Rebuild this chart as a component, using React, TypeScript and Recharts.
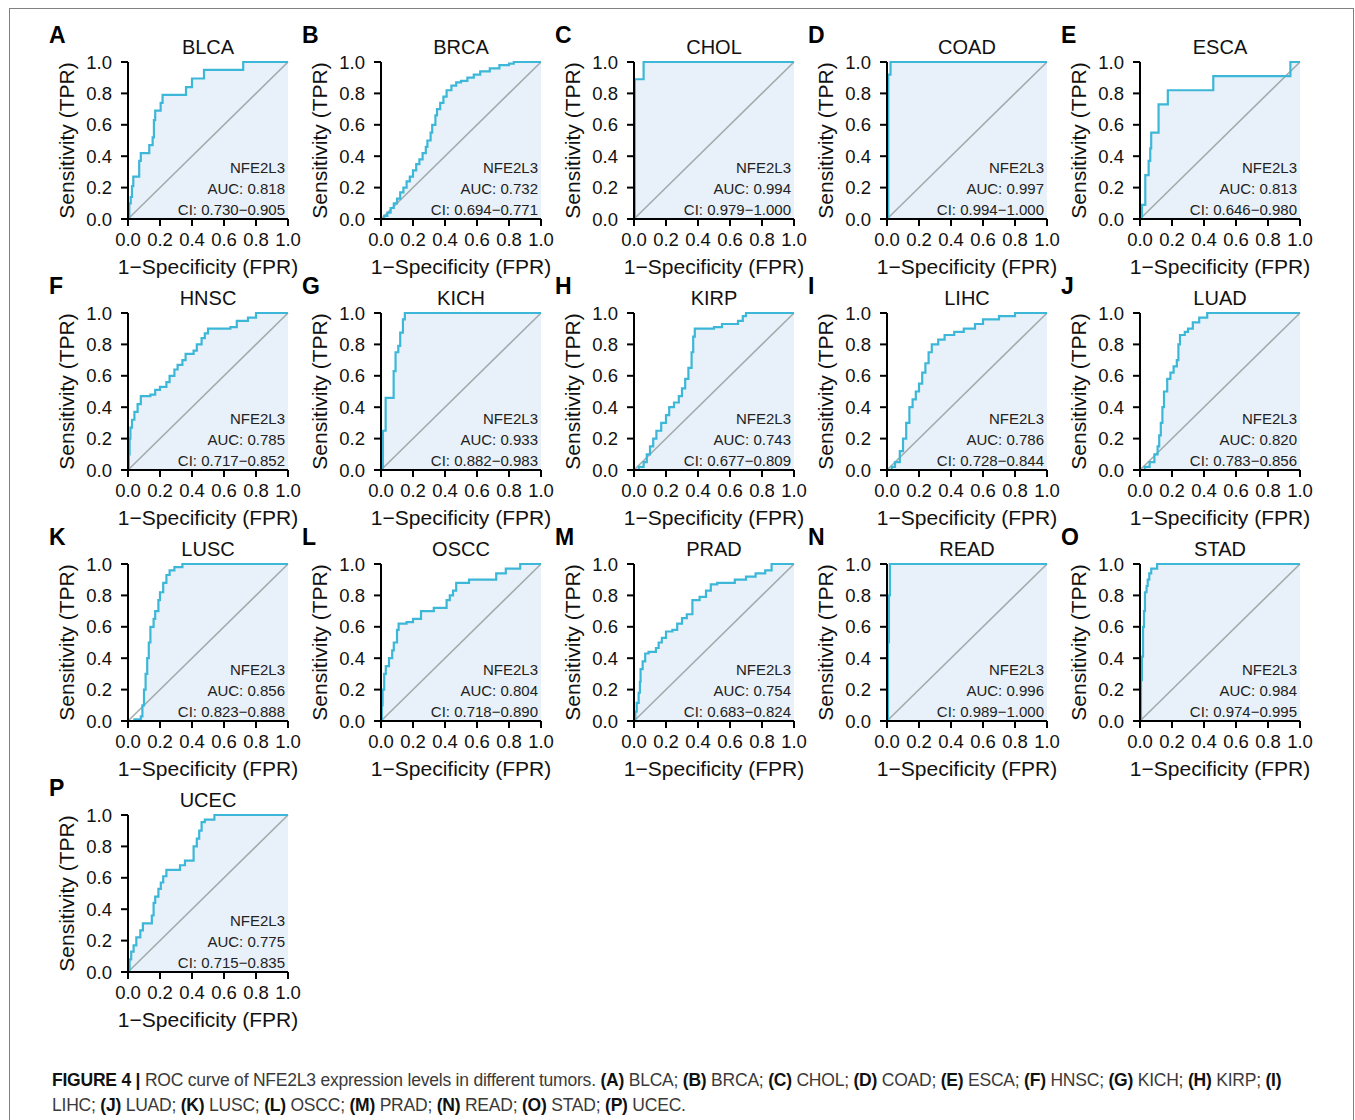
import { ComposedChart, Area, Line, XAxis, YAxis, Label } from 'recharts';

const FONT = '"Liberation Sans", Arial, Helvetica, sans-serif';

const TICKS = [0, 0.2, 0.4, 0.6, 0.8, 1.0];
const DIAGONAL = [{ x: 0, y: 0 }, { x: 1, y: 1 }];

// ROC corner points: each (fpr, tpr) is reached by a horizontal then a vertical move
const BLCA_FPR = [0, 0.008, 0.017, 0.025, 0.033, 0.07, 0.08, 0.133, 0.154, 0.162, 0.17, 0.204, 0.216, 0.3625, 0.4, 0.475, 0.72, 1.0];
const BLCA_TPR = [0, 0.1, 0.14, 0.21, 0.27, 0.37, 0.42, 0.47, 0.52, 0.63, 0.69, 0.74, 0.79, 0.84, 0.895, 0.95, 1.0, 1.0];

const BRCA_FPR = [0, 0.02, 0.04, 0.06, 0.08, 0.1, 0.12, 0.14, 0.16, 0.18, 0.2, 0.22, 0.24, 0.26, 0.28, 0.29, 0.31, 0.32, 0.34, 0.35, 0.37, 0.39, 0.41, 0.44, 0.47, 0.5, 0.54, 0.58, 0.62, 0.68, 0.74, 0.8, 0.83, 1.0];
const BRCA_TPR = [0, 0.02, 0.04, 0.07, 0.1, 0.13, 0.17, 0.2, 0.24, 0.27, 0.31, 0.35, 0.38, 0.42, 0.46, 0.5, 0.55, 0.6, 0.66, 0.7, 0.74, 0.78, 0.82, 0.85, 0.87, 0.88, 0.9, 0.92, 0.94, 0.96, 0.98, 0.99, 1.0, 1.0];

const CHOL_FPR = [0, 0.005, 0.06, 1.0];
const CHOL_TPR = [0, 0.89, 1.0, 1.0];

const COAD_FPR = [0, 0.008, 0.022, 1.0];
const COAD_TPR = [0, 0.92, 1.0, 1.0];

const ESCA_FPR = [0, 0.012, 0.033, 0.054, 0.064, 0.07, 0.116, 0.174, 0.458, 0.94, 1.0];
const ESCA_TPR = [0, 0.09, 0.28, 0.37, 0.45, 0.55, 0.73, 0.82, 0.91, 1.0, 1.0];

const HNSC_FPR = [0, 0.005, 0.01, 0.015, 0.025, 0.04, 0.06, 0.08, 0.14, 0.17, 0.2, 0.24, 0.26, 0.29, 0.31, 0.34, 0.36, 0.41, 0.43, 0.46, 0.48, 0.5, 0.64, 0.68, 0.75, 0.8, 1.0];
const HNSC_TPR = [0, 0.1, 0.2, 0.27, 0.32, 0.37, 0.42, 0.47, 0.48, 0.51, 0.53, 0.56, 0.6, 0.64, 0.67, 0.7, 0.74, 0.76, 0.8, 0.84, 0.87, 0.9, 0.91, 0.95, 0.97, 1.0, 1.0];

const KICH_FPR = [0, 0.012, 0.029, 0.079, 0.091, 0.108, 0.12, 0.137, 0.149, 1.0];
const KICH_TPR = [0, 0.25, 0.46, 0.63, 0.75, 0.79, 0.875, 0.96, 1.0, 1.0];

const KIRP_FPR = [0, 0.03, 0.06, 0.08, 0.1, 0.12, 0.14, 0.17, 0.2, 0.22, 0.25, 0.28, 0.3, 0.32, 0.34, 0.36, 0.37, 0.38, 0.5, 0.55, 0.65, 0.68, 0.7, 1.0];
const KIRP_TPR = [0, 0.02, 0.05, 0.1, 0.15, 0.2, 0.25, 0.3, 0.35, 0.4, 0.43, 0.47, 0.52, 0.58, 0.65, 0.75, 0.85, 0.9, 0.91, 0.93, 0.95, 0.98, 1.0, 1.0];

const LIHC_FPR = [0, 0.03, 0.05, 0.08, 0.1, 0.12, 0.14, 0.16, 0.18, 0.2, 0.22, 0.24, 0.26, 0.28, 0.32, 0.36, 0.42, 0.48, 0.55, 0.6, 0.7, 0.8, 1.0];
const LIHC_TPR = [0, 0.02, 0.05, 0.12, 0.2, 0.3, 0.4, 0.45, 0.5, 0.55, 0.62, 0.68, 0.75, 0.8, 0.83, 0.86, 0.88, 0.9, 0.93, 0.96, 0.98, 1.0, 1.0];

const LUAD_FPR = [0, 0.03, 0.06, 0.09, 0.11, 0.12, 0.13, 0.14, 0.15, 0.17, 0.19, 0.21, 0.23, 0.24, 0.25, 0.28, 0.3, 0.33, 0.37, 0.42, 1.0];
const LUAD_TPR = [0, 0.02, 0.05, 0.1, 0.15, 0.22, 0.3, 0.4, 0.5, 0.58, 0.62, 0.66, 0.7, 0.8, 0.86, 0.88, 0.9, 0.94, 0.97, 1.0, 1.0];

const LUSC_FPR = [0, 0.04, 0.08, 0.09, 0.1, 0.11, 0.12, 0.13, 0.14, 0.16, 0.17, 0.19, 0.2, 0.22, 0.24, 0.26, 0.29, 0.34, 1.0];
const LUSC_TPR = [0, 0.01, 0.03, 0.1, 0.2, 0.3, 0.4, 0.5, 0.6, 0.65, 0.7, 0.77, 0.82, 0.88, 0.93, 0.96, 0.98, 1.0, 1.0];

const OSCC_FPR = [0, 0.005, 0.01, 0.02, 0.03, 0.05, 0.07, 0.08, 0.1, 0.11, 0.16, 0.2, 0.25, 0.33, 0.38, 0.41, 0.43, 0.45, 0.47, 0.55, 0.72, 0.78, 0.87, 1.0];
const OSCC_TPR = [0, 0.1, 0.2, 0.3, 0.35, 0.4, 0.45, 0.5, 0.58, 0.62, 0.63, 0.65, 0.7, 0.72, 0.72, 0.77, 0.8, 0.83, 0.88, 0.9, 0.94, 0.97, 1.0, 1.0];

const PRAD_FPR = [0, 0.008, 0.017, 0.029, 0.037, 0.041, 0.054, 0.07, 0.091, 0.137, 0.154, 0.174, 0.2, 0.24, 0.27, 0.3, 0.33, 0.365, 0.41, 0.45, 0.48, 0.52, 0.63, 0.7, 0.76, 0.82, 0.86, 1.0];
const PRAD_TPR = [0, 0.06, 0.115, 0.18, 0.25, 0.33, 0.38, 0.43, 0.44, 0.465, 0.5, 0.53, 0.57, 0.58, 0.62, 0.655, 0.68, 0.77, 0.79, 0.83, 0.87, 0.88, 0.9, 0.92, 0.94, 0.96, 1.0, 1.0];

const READ_FPR = [0, 0.006, 0.012, 0.018, 1.0];
const READ_TPR = [0, 0.5, 0.8, 1.0, 1.0];

const STAD_FPR = [0, 0.006, 0.012, 0.019, 0.025, 0.031, 0.041, 0.048, 0.058, 0.07, 0.107, 1.0];
const STAD_TPR = [0, 0.26, 0.41, 0.6, 0.7, 0.82, 0.86, 0.9, 0.94, 0.97, 1.0, 1.0];

const UCEC_FPR = [0, 0.01, 0.02, 0.035, 0.052, 0.077, 0.093, 0.149, 0.16, 0.17, 0.19, 0.205, 0.22, 0.24, 0.325, 0.356, 0.41, 0.43, 0.445, 0.46, 0.48, 0.54, 1.0];
const UCEC_TPR = [0, 0.08, 0.13, 0.17, 0.22, 0.265, 0.31, 0.36, 0.44, 0.48, 0.53, 0.57, 0.61, 0.65, 0.68, 0.71, 0.8, 0.85, 0.9, 0.955, 0.97, 1.0, 1.0];

const PANELS = [
  { letter: 'A', name: 'BLCA', fpr: BLCA_FPR, tpr: BLCA_TPR, auc: '0.818', ci: '0.730−0.905' },
  { letter: 'B', name: 'BRCA', fpr: BRCA_FPR, tpr: BRCA_TPR, auc: '0.732', ci: '0.694−0.771' },
  { letter: 'C', name: 'CHOL', fpr: CHOL_FPR, tpr: CHOL_TPR, auc: '0.994', ci: '0.979−1.000' },
  { letter: 'D', name: 'COAD', fpr: COAD_FPR, tpr: COAD_TPR, auc: '0.997', ci: '0.994−1.000' },
  { letter: 'E', name: 'ESCA', fpr: ESCA_FPR, tpr: ESCA_TPR, auc: '0.813', ci: '0.646−0.980' },
  { letter: 'F', name: 'HNSC', fpr: HNSC_FPR, tpr: HNSC_TPR, auc: '0.785', ci: '0.717−0.852' },
  { letter: 'G', name: 'KICH', fpr: KICH_FPR, tpr: KICH_TPR, auc: '0.933', ci: '0.882−0.983' },
  { letter: 'H', name: 'KIRP', fpr: KIRP_FPR, tpr: KIRP_TPR, auc: '0.743', ci: '0.677−0.809' },
  { letter: 'I', name: 'LIHC', fpr: LIHC_FPR, tpr: LIHC_TPR, auc: '0.786', ci: '0.728−0.844' },
  { letter: 'J', name: 'LUAD', fpr: LUAD_FPR, tpr: LUAD_TPR, auc: '0.820', ci: '0.783−0.856' },
  { letter: 'K', name: 'LUSC', fpr: LUSC_FPR, tpr: LUSC_TPR, auc: '0.856', ci: '0.823−0.888' },
  { letter: 'L', name: 'OSCC', fpr: OSCC_FPR, tpr: OSCC_TPR, auc: '0.804', ci: '0.718−0.890' },
  { letter: 'M', name: 'PRAD', fpr: PRAD_FPR, tpr: PRAD_TPR, auc: '0.754', ci: '0.683−0.824' },
  { letter: 'N', name: 'READ', fpr: READ_FPR, tpr: READ_TPR, auc: '0.996', ci: '0.989−1.000' },
  { letter: 'O', name: 'STAD', fpr: STAD_FPR, tpr: STAD_TPR, auc: '0.984', ci: '0.974−0.995' },
  { letter: 'P', name: 'UCEC', fpr: UCEC_FPR, tpr: UCEC_TPR, auc: '0.775', ci: '0.715−0.835' },
];

const GENE = 'NFE2L3';

// plot area geometry (px)
const COL_PITCH = 253;
const ROW_PITCH = 251;
const PLOT_LEFT = 128;
const PLOT_TOP = 62;
const PLOT_W = 160;
const PLOT_H = 157;
const Y_AXIS_W = 122;
const M_TOP = 10;
const X_AXIS_H = 60;
const CHART_W = 300;
const CHART_H = 290;

const CURVE = '#3db7d8';
const FILL = '#e8f1f9';
const DIAG = '#a2abab';

function RocPanel({ panel, index }: { panel: (typeof PANELS)[number]; index: number }) {
  const col = index % 5;
  const row = Math.floor(index / 5);
  const plotLeft = PLOT_LEFT + col * COL_PITCH;
  const plotTop = PLOT_TOP + row * ROW_PITCH;
  const points = panel.fpr.map((x, i) => ({ x, y: panel.tpr[i] }));
  const tickStyle = { fontSize: 18.5, fill: '#111', fontFamily: FONT };

  return (
    <>
      <div
        style={{
          position: 'absolute',
          left: plotLeft - 79,
          top: plotTop - 38,
          fontFamily: FONT,
          fontWeight: 700,
          fontSize: 23,
          lineHeight: '23px',
          color: '#000',
        }}
      >
        {panel.letter}
      </div>
      <div
        style={{
          position: 'absolute',
          left: plotLeft,
          width: PLOT_W,
          top: plotTop - 25.5,
          textAlign: 'center',
          fontFamily: FONT,
          fontSize: 20,
          lineHeight: '20px',
          color: '#111',
        }}
      >
        {panel.name}
      </div>
      <div style={{ position: 'absolute', left: plotLeft - Y_AXIS_W, top: plotTop - M_TOP }}>
        <ComposedChart
          width={CHART_W}
          height={CHART_H}
          margin={{ top: M_TOP, left: 0, right: CHART_W - Y_AXIS_W - PLOT_W, bottom: CHART_H - M_TOP - PLOT_H - X_AXIS_H }}
        >
          <XAxis
            dataKey="x"
            type="number"
            domain={[0, 1]}
            ticks={TICKS}
            tickFormatter={(v: number) => v.toFixed(1)}
            tick={tickStyle}
            tickSize={7}
            tickMargin={7}
            height={X_AXIS_H}
            axisLine={{ stroke: '#000', strokeWidth: 2 }}
            tickLine={{ stroke: '#000', strokeWidth: 2 }}
            allowDuplicatedCategory={false}
          >
            <Label value="1−Specificity (FPR)" position="insideBottom" offset={5} fontSize={21} fill="#111" fontFamily={FONT} />
          </XAxis>
          <YAxis
            type="number"
            domain={[0, 1]}
            ticks={TICKS}
            tickFormatter={(v: number) => v.toFixed(1)}
            tick={tickStyle}
            tickSize={7}
            tickMargin={9}
            width={Y_AXIS_W}
            axisLine={{ stroke: '#000', strokeWidth: 2 }}
            tickLine={{ stroke: '#000', strokeWidth: 2 }}
          >
            <Label value="Sensitivity (TPR)" angle={-90} position="center" fontSize={21} fill="#111" fontFamily={FONT} />
          </YAxis>
          <Area
            data={points}
            dataKey="y"
            type="stepAfter"
            stroke="none"
            fill={FILL}
            fillOpacity={1}
            isAnimationActive={false}
          />
          <Line data={DIAGONAL} dataKey="y" type="linear" stroke={DIAG} strokeWidth={1.6} dot={false} isAnimationActive={false} />
          <Line data={points} dataKey="y" type="stepAfter" stroke={CURVE} strokeWidth={2.2} dot={false} isAnimationActive={false} />
        </ComposedChart>
      </div>
      <div
        style={{
          position: 'absolute',
          left: plotLeft,
          width: PLOT_W - 3,
          top: plotTop + 95,
          textAlign: 'right',
          fontFamily: FONT,
          fontSize: 15,
          lineHeight: '21px',
          color: '#222',
        }}
      >
        <div>{GENE}</div>
        <div>AUC: {panel.auc}</div>
        <div>CI: {panel.ci}</div>
      </div>
    </>
  );
}

const B = ({ children }: { children: string }) => <b style={{ color: '#111' }}>{children}</b>;

export default function App() {
  return (
    <div style={{ position: 'absolute', left: 0, top: 0, width: 1355, height: 1120, overflow: 'hidden', background: '#fff' }}>
      <div
        style={{
          position: 'absolute',
          left: 9,
          top: 8,
          width: 1343,
          height: 1120,
          borderLeft: '1px solid #808080',
          borderTop: '1px solid #808080',
          borderRight: '1px solid #808080',
        }}
      />
      {PANELS.map((p, i) => (
        <RocPanel key={p.name} panel={p} index={i} />
      ))}
      <div
        style={{
          position: 'absolute',
          left: 52,
          top: 1068,
          fontFamily: FONT,
          fontSize: 17.5,
          lineHeight: '25px',
          color: '#3a3a3a',
          whiteSpace: 'nowrap',
          letterSpacing: '-0.22px',
        }}
      >
        <div>
          <B>FIGURE 4 |</B> ROC curve of NFE2L3 expression levels in different tumors. <B>(A)</B> BLCA; <B>(B)</B> BRCA;{' '}
          <B>(C)</B> CHOL; <B>(D)</B> COAD; <B>(E)</B> ESCA; <B>(F)</B> HNSC; <B>(G)</B> KICH; <B>(H)</B> KIRP; <B>(I)</B>
        </div>
        <div>
          LIHC; <B>(J)</B> LUAD; <B>(K)</B> LUSC; <B>(L)</B> OSCC; <B>(M)</B> PRAD; <B>(N)</B> READ; <B>(O)</B> STAD;{' '}
          <B>(P)</B> UCEC.
        </div>
      </div>
    </div>
  );
}
